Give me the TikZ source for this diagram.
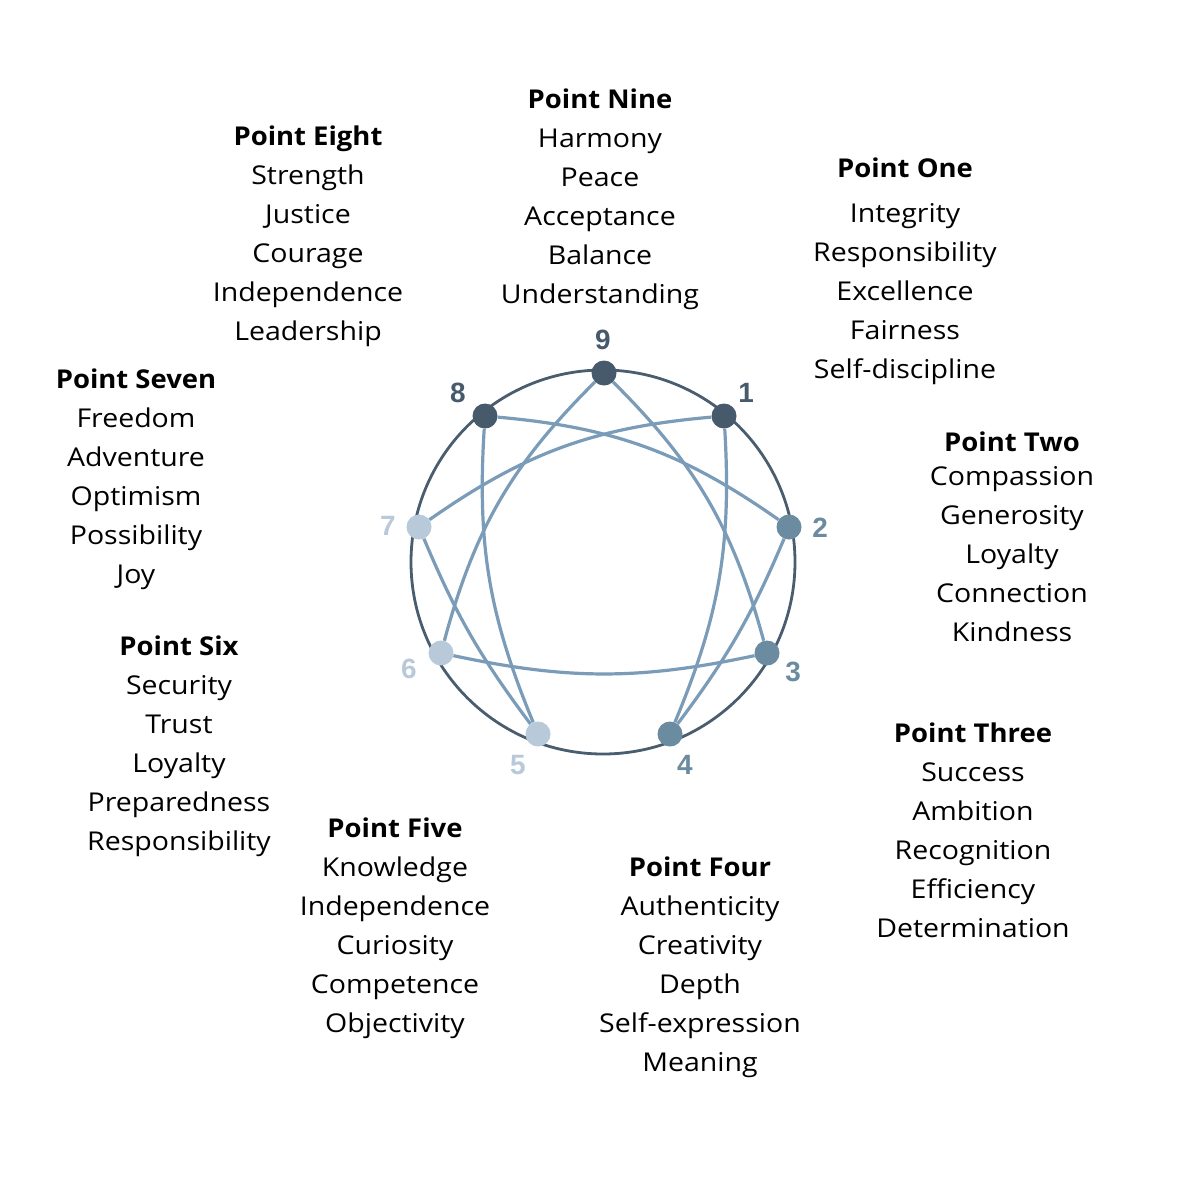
\documentclass[tikz,border=0pt]{standalone}
\usepackage{fontspec}
\setmainfont{Open Sans}[FakeStretch=1.1, BoldFeatures={FakeStretch=1.06}]
\newfontfamily\numfont{Liberation Sans}
\definecolor{ringc}{HTML}{4A5D6F}
\definecolor{darkc}{HTML}{475A6C}
\definecolor{midc}{HTML}{6A8BA0}
\definecolor{lightc}{HTML}{B8C9D9}
\definecolor{edgec}{HTML}{7B9CB8}
\tikzset{
  dot/.style={circle, inner sep=0pt, minimum size=25bp},
  edge/.style={draw=edgec, line width=3.2bp},
  num/.style={font=\numfont\bfseries\fontsize{28}{28}\selectfont, inner sep=0pt},
  title/.style={font=\bfseries\fontsize{26}{30}\selectfont, anchor=base, inner sep=0pt},
  item/.style={font=\fontsize{26}{30}\selectfont, anchor=base, inner sep=0pt}
}
\begin{document}
\begin{tikzpicture}[x=1bp,y=-1bp]
\useasboundingbox (0,0) rectangle (1200,1200);
\fill[white] (0,0) rectangle (1200,1200);
% ring
\node[circle, draw=ringc, line width=2.8bp, minimum size=384bp, inner sep=0pt] (ring) at (603,562) {};
% dots
\node[dot, fill=darkc]  (p9) at (604,373) {};
\node[dot, fill=darkc]  (p1) at (724,416) {};
\node[dot, fill=midc]   (p2) at (789,527) {};
\node[dot, fill=midc]   (p3) at (767,653) {};
\node[dot, fill=midc]   (p4) at (670,734) {};
\node[dot, fill=lightc] (p5) at (538,734) {};
\node[dot, fill=lightc] (p6) at (441,653) {};
\node[dot, fill=lightc] (p7) at (419,527) {};
\node[dot, fill=darkc]  (p8) at (485,416) {};
% connectors
\draw[edge] (p9) to[bend left=15] (p3);
\draw[edge] (p9) to[bend right=15] (p6);
\draw[edge] (p6) to[bend right=12] (p3);
\draw[edge] (p1) to[bend right=15] (p7);
\draw[edge] (p8) to[bend left=15] (p2);
\draw[edge] (p8) to[bend right=13] (p5);
\draw[edge] (p1) to[bend left=13] (p4);
\draw[edge] (p7) to[bend right=7] (p5);
\draw[edge] (p2) to[bend left=7] (p4);
% numbers
\node[num, text=darkc]  (n9) at (603,340) {9};
\node[num, text=darkc]  (n1) at (746,393) {1};
\node[num, text=midc]   (n2) at (820,528) {2};
\node[num, text=midc]   (n3) at (793,672) {3};
\node[num, text=midc]   (n4) at (685,765) {4};
\node[num, text=lightc] (n5) at (518,765) {5};
\node[num, text=lightc] (n6) at (409,669) {6};
\node[num, text=lightc] (n7) at (388,526) {7};
\node[num, text=darkc]  (n8) at (458,393) {8};
% text blocks
\node[title] (t9) at (600,108) {Point Nine};
\foreach \t [count=\i] in {Harmony,Peace,Acceptance,Balance,Understanding}
  \node[item] (b9-\i) at (600,147+39*\i-39) {\t};
\node[title] (t8) at (308,145) {Point Eight};
\foreach \t [count=\i] in {Strength,Justice,Courage,Independence,Leadership}
  \node[item] (b8-\i) at (308,184+39*\i-39) {\t};
\node[title] (t1) at (905,177) {Point One};
\foreach \t [count=\i] in {Integrity,Responsibility,Excellence,Fairness,Self-discipline}
  \node[item] (b1-\i) at (905,222+39*\i-39) {\t};
\node[title] (t2) at (1012,451) {Point Two};
\foreach \t [count=\i] in {Compassion,Generosity,Loyalty,Connection,Kindness}
  \node[item] (b2-\i) at (1012,485+39*\i-39) {\t};
\node[title] (t3) at (973,742) {Point Three};
\foreach \t [count=\i] in {Success,Ambition,Recognition,Efficiency,Determination}
  \node[item] (b3-\i) at (973,781+39*\i-39) {\t};
\node[title] (t4) at (700,876) {Point Four};
\foreach \t [count=\i] in {Authenticity,Creativity,Depth,Self-expression,Meaning}
  \node[item] (b4-\i) at (700,915+39*\i-39) {\t};
\node[title] (t5) at (395,837) {Point Five};
\foreach \t [count=\i] in {Knowledge,Independence,Curiosity,Competence,Objectivity}
  \node[item] (b5-\i) at (395,876+39*\i-39) {\t};
\node[title] (t6) at (179,655) {Point Six};
\foreach \t [count=\i] in {Security,Trust,Loyalty,Preparedness,Responsibility}
  \node[item] (b6-\i) at (179,694+39*\i-39) {\t};
\node[title] (t7) at (136,388) {Point Seven};
\foreach \t [count=\i] in {Freedom,Adventure,Optimism,Possibility,Joy}
  \node[item] (b7-\i) at (136,427+39*\i-39) {\t};
\end{tikzpicture}
\end{document}
